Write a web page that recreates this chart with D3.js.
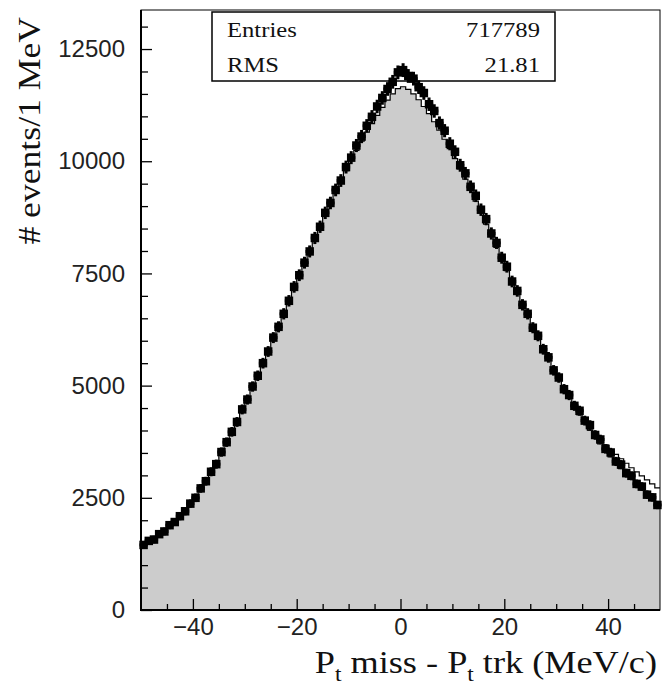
<!DOCTYPE html>
<html><head><meta charset="utf-8">
<script src="https://cdn.jsdelivr.net/npm/d3@7"></script>
<style>body{margin:0;background:#fff} svg{display:block}</style>
</head><body>
<svg id="c" width="662" height="688"></svg>
<script>
// ---- data (bin width 1 MeV, bins from -50 to 50) ----
const binStart = -50;
const binWidth = 1;
const dataCounts = [
 1450,1540,1570,1690,1750,1890,1960,2090,2200,2370,
 2500,2710,2870,3080,3250,3520,3740,3970,4190,4470,
 4690,4980,5220,5500,5760,6070,6310,6600,6890,7200,
 7460,7740,7990,8290,8540,8850,9070,9360,9570,9870,
 10080,10350,10550,10790,10990,11220,11410,11610,11770,11980,
 12030,11900,11840,11650,11520,11270,11120,10850,10680,10390,
 10210,9910,9730,9430,9230,8920,8710,8390,8180,7850,
 7650,7320,7110,6800,6600,6290,6110,5810,5630,5340,
 5180,4920,4790,4550,4440,4220,4120,3900,3800,3590,
 3510,3310,3240,3050,2990,2810,2750,2570,2510,2340
];
const mcCounts = [
 1440,1510,1590,1670,1760,1860,1960,2080,2200,2340,
 2500,2670,2850,3040,3250,3470,3700,3930,4170,4420,
 4670,4930,5200,5470,5750,6030,6310,6590,6870,7150,
 7430,7700,7980,8250,8520,8790,9050,9300,9550,9790,
 10020,10240,10450,10650,10840,11020,11200,11360,11500,11620,
 11660,11600,11500,11370,11220,11060,10880,10690,10490,10280,
 10060,9830,9600,9360,9110,8860,8600,8340,8080,7820,
 7560,7300,7040,6790,6540,6290,6050,5810,5580,5350,
 5130,4920,4720,4530,4350,4180,4010,3850,3700,3550,
 3410,3280,3150,3030,2910,2790,2680,2570,2460,2350
];
// second (unfilled) histogram where it separates from the filled one (bins from +36 to +50)
const mcAltFirstBin = 86;
const mcAltCounts = [4010,3900,3790,3680,3570,3470,3370,3270,3170,3080,2990,2900,2810,2720];

const xMajorTicks = [-40,-20,0,20,40];
const xMinorTicks = [-45,-35,-30,-25,-15,-10,-5,5,10,15,25,30,35,45];
const yMajorTicks = [0,2500,5000,7500,10000,12500];
const yTickLabels = ["0","2500","5000","7500","10000","12500"];
const yMinorTicks = [500,1000,1500,2000,3000,3500,4000,4500,5500,6000,6500,7000,8000,8500,9000,9500,10500,11000,11500,12000,13000];
const statsLabels = ["Entries","RMS"];
const statsValues = ["717789","21.81"];

// ---- layout ----
const L = 141, R = 660, T = 10, B = 610;
const svg = d3.select("#c");
const x = d3.scaleLinear().domain([-50,50]).range([L,R]);
const y = d3.scaleLinear().domain([0,13370]).range([B,T]);

function stepPoints(counts, first){
  const pts = [];
  counts.forEach((v,i)=>{
    const lo = binStart + (first+i)*binWidth;
    pts.push({x:lo, v}); pts.push({x:lo+binWidth, v});
  });
  return pts;
}
const mcPts = stepPoints(mcCounts, 0);
const area = d3.area().x(d=>x(d.x)).y0(y(0)).y1(d=>y(d.v));
const line = d3.line().x(d=>x(d.x)).y(d=>y(d.v));

svg.append("path").attr("d", area(mcPts)).attr("fill","#cccccc");
svg.append("path").attr("d", line(mcPts)).attr("fill","none").attr("stroke","#000").attr("stroke-width",1.2);
const altPts = stepPoints(mcAltCounts, mcAltFirstBin);
svg.append("path").attr("d", line(altPts)).attr("fill","none").attr("stroke","#000").attr("stroke-width",1.2);

// frame
svg.append("rect").attr("x",L).attr("y",T).attr("width",R-L).attr("height",B-T)
  .attr("fill","none").attr("stroke","#000").attr("stroke-width",1);
svg.append("line").attr("x1",L).attr("x2",L).attr("y1",T).attr("y2",B+1).attr("stroke","#000").attr("stroke-width",2);
svg.append("line").attr("x1",L-1).attr("x2",R).attr("y1",B).attr("y2",B).attr("stroke","#000").attr("stroke-width",2);

// axes
const fontTicks = "'Liberation Sans', Arial, sans-serif";
const gx = svg.append("g").attr("transform",`translate(0,${B})`)
  .call(d3.axisBottom(x).tickValues(xMajorTicks).tickSize(-11).tickPadding(8).tickFormat(d3.format("d")));
const gxm = svg.append("g").attr("transform",`translate(0,${B})`)
  .call(d3.axisBottom(x).tickValues(xMinorTicks).tickSize(-6).tickFormat(""));
const gy = svg.append("g").attr("transform",`translate(${L},0)`)
  .call(d3.axisLeft(y).tickValues(yMajorTicks).tickSize(-11).tickPadding(16).tickFormat((d,i)=>yTickLabels[i]));
const gym = svg.append("g").attr("transform",`translate(${L},0)`)
  .call(d3.axisLeft(y).tickValues(yMinorTicks).tickSize(-7).tickFormat(""));
[gx,gxm,gy,gym].forEach(g=>{
  g.select(".domain").remove();
  g.selectAll(".tick line").attr("stroke","#000").attr("stroke-width",1.3);
  g.selectAll("text").attr("font-family",fontTicks).attr("font-size",24).attr("fill","#222");
});

// stats box
const box = svg.append("g");
box.append("rect").attr("x",212).attr("y",12).attr("width",343).attr("height",69)
  .attr("fill","#fff").attr("stroke","#000").attr("stroke-width",1.5);
const serif = "'Liberation Serif', 'Times New Roman', serif";
statsLabels.forEach((s,i)=>{
  const by = 37 + i*35;
  box.append("text").attr("transform",`translate(227,${by}) scale(1.12,1)`)
    .attr("font-family",serif).attr("font-size",22).attr("fill","#111").text(s);
  box.append("text").attr("transform",`translate(540,${by}) scale(1.12,1)`)
    .attr("text-anchor","end").attr("font-family",serif).attr("font-size",22).attr("fill","#111").text(statsValues[i]);
});

// data markers with error bars
const centers = dataCounts.map((v,i)=>({c: binStart + (i+0.5)*binWidth, v}));
const gm = svg.append("g");
gm.selectAll("line.ev").data(centers).join("line").attr("class","ev")
  .attr("x1",d=>x(d.c)).attr("x2",d=>x(d.c))
  .attr("y1",d=>y(d.v+Math.sqrt(d.v))-2).attr("y2",d=>y(d.v-Math.sqrt(d.v))+2)
  .attr("stroke","#000").attr("stroke-width",3);
gm.selectAll("line.eh").data(centers).join("line").attr("class","eh")
  .attr("x1",d=>x(d.c-binWidth/2)-1.5).attr("x2",d=>x(d.c+binWidth/2)+1.5)
  .attr("y1",d=>y(d.v)).attr("y2",d=>y(d.v))
  .attr("stroke","#000").attr("stroke-width",3);
const ms = 8.5;
gm.selectAll("rect").data(centers).join("rect")
  .attr("x",d=>x(d.c)-ms/2).attr("y",d=>y(d.v)-ms/2).attr("width",ms).attr("height",ms)
  .attr("fill","#000");

// axis titles
const xt = svg.append("text").attr("transform","translate(657,673) scale(1.17,1)")
  .attr("text-anchor","end").attr("font-family",serif).attr("font-size",31).attr("fill","#111");
xt.append("tspan").text("P");
xt.append("tspan").attr("font-size",20).attr("dy",8).text("t");
xt.append("tspan").attr("dy",-8).text(" miss - P");
xt.append("tspan").attr("font-size",20).attr("dy",8).text("t");
xt.append("tspan").attr("dy",-8).text(" trk (MeV/c)");

svg.append("text").attr("transform","translate(40,17) rotate(-90) scale(1.15,1)")
  .attr("text-anchor","end").attr("font-family",serif).attr("font-size",31).attr("fill","#111")
  .text("# events/1 MeV");
</script>
</body></html>
